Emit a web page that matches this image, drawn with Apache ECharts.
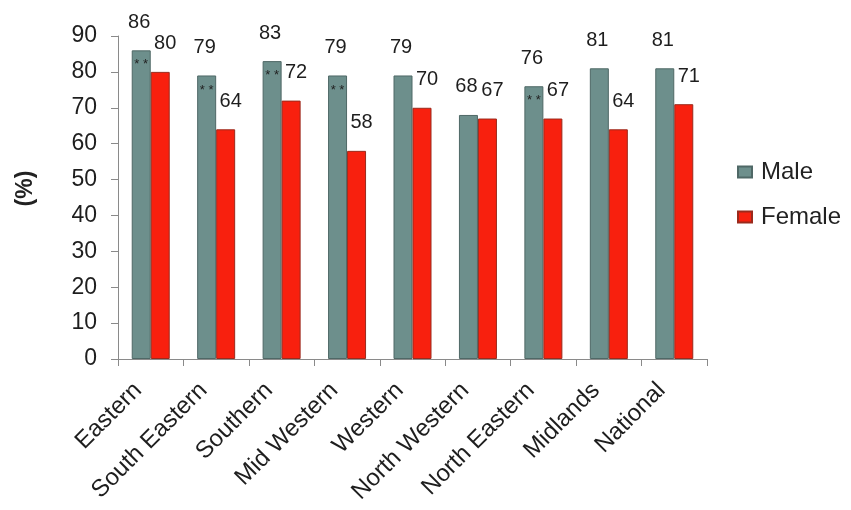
<!DOCTYPE html>
<html>
<head>
<meta charset="utf-8">
<script src="https://cdn.jsdelivr.net/npm/echarts@6/dist/echarts.min.js"></script>
<style>
  html, body { margin: 0; padding: 0; background: #ffffff; }
  #chart { width: 851px; height: 510px; }
</style>
</head>
<body>
<div id="chart"></div>
<script>
// Health board regions and national figure
const regions = ['Eastern', 'South Eastern', 'Southern', 'Mid Western', 'Western',
                 'North Western', 'North Eastern', 'Midlands', 'National'];
const maleValues   = [86, 79, 83, 79, 79, 68, 76, 81, 81];
const femaleValues = [80, 64, 72, 58, 70, 67, 67, 64, 71];
// regions where the male/female difference is flagged as significant
const significant  = [true, true, true, true, false, false, true, false, false];
const yTicks = { min: 0, max: 90, interval: 10 };

const FONT = 'Liberation Sans, Arial, sans-serif';
const MALE = '#6d8f8c';
const FEMALE = '#f8200e';

const chart = echarts.init(document.getElementById('chart'), null, { renderer: 'canvas' });

const barWidth = 19;

chart.setOption({
  backgroundColor: '#ffffff',
  animation: false,
  grid: { left: 118, right: 144, top: 36, bottom: 151, containLabel: false },
  legend: {
    orient: 'vertical',
    left: 732,
    top: 155,
    icon: 'rect',
    itemWidth: 14,
    itemHeight: 11,
    itemGap: 21,
    textStyle: { fontFamily: FONT, fontSize: 24, color: '#222', padding: [0, 0, 0, 4] },
    data: ['Male', 'Female']
  },
  xAxis: [
    {
      type: 'category',
      data: regions,
      axisLine: { lineStyle: { color: '#8a8a8a', width: 1 } },
      axisTick: { show: true, length: 7, lineStyle: { color: '#8a8a8a' } },
      axisLabel: {
        rotate: 45,
        margin: 15,
        padding: [0, 18, 0, 0],
        fontFamily: FONT,
        fontSize: 24,
        color: '#1e1e1e'
      }
    },
    {
      // overlay axis used only to place the significance markers on the male bars
      type: 'category',
      data: regions,
      position: 'bottom',
      show: false
    }
  ],
  yAxis: {
    type: 'value',
    min: yTicks.min,
    max: yTicks.max,
    interval: yTicks.interval,
    name: '(%)',
    nameLocation: 'middle',
    nameRotate: 90,
    nameGap: 81,
    nameTextStyle: { fontFamily: FONT, fontSize: 23, fontWeight: 'bold', color: '#222', padding: [0, 0, 0, 18] },
    axisLine: { show: true, lineStyle: { color: '#8a8a8a', width: 1 } },
    axisTick: { show: true, length: 7, lineStyle: { color: '#8a8a8a' } },
    axisLabel: { margin: 21, fontFamily: FONT, fontSize: 23, color: '#1e1e1e' },
    splitLine: { show: false }
  },
  series: [
    {
      name: 'Male',
      type: 'bar',
      xAxisIndex: 0,
      data: maleValues,
      barWidth: barWidth,
      barGap: '0%',
      itemStyle: { color: MALE, borderColor: '#4f6866', borderWidth: 1 },
      label: {
        show: true,
        position: 'top',
        distance: 18,
        offset: [-2, 0],
        fontFamily: FONT,
        fontSize: 20,
        color: '#1e1e1e'
      }
    },
    {
      name: 'Female',
      type: 'bar',
      xAxisIndex: 0,
      data: femaleValues,
      barWidth: barWidth,
      barGap: '0%',
      itemStyle: { color: FEMALE, borderColor: '#9a2a1c', borderWidth: 1 },
      label: {
        show: true,
        position: 'top',
        distance: 18,
        offset: [5, 0],
        fontFamily: FONT,
        fontSize: 20,
        color: '#1e1e1e'
      }
    },
    {
      // transparent copy of the male bars carrying the "**" markers
      name: 'maleMarks',
      type: 'bar',
      xAxisIndex: 1,
      data: maleValues,
      barWidth: barWidth,
      barGap: '0%',
      silent: true,
      itemStyle: { color: 'rgba(0,0,0,0)' },
      label: {
        show: true,
        position: 'insideTop',
        distance: 8,
        fontFamily: FONT,
        fontSize: 13,
        color: '#222',
        formatter: p => significant[p.dataIndex] ? '* *' : ''
      }
    },
    {
      name: 'femaleSpacer',
      type: 'bar',
      xAxisIndex: 1,
      data: femaleValues,
      barWidth: barWidth,
      barGap: '0%',
      silent: true,
      itemStyle: { color: 'rgba(0,0,0,0)' },
      label: { show: false }
    }
  ]
});
</script>
</body>
</html>
